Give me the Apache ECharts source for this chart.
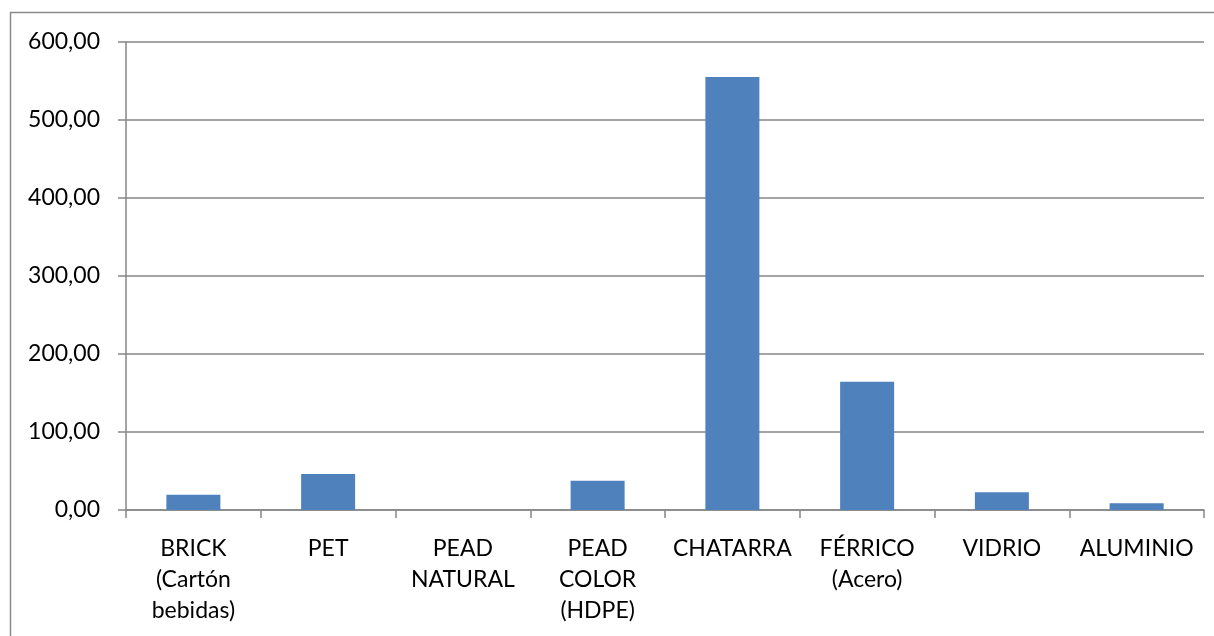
<!DOCTYPE html>
<html>
<head>
<meta charset="utf-8">
<script src="https://cdn.jsdelivr.net/npm/echarts@6/dist/echarts.min.js"></script>
<style>html,body{margin:0;padding:0;background:#fff;}#c{width:1214px;height:636px;}</style>
</head>
<body>
<div id="c"></div>
<script>
const categories = ["BRICK\n(Cartón\nbebidas)", "PET", "PEAD\nNATURAL", "PEAD\nCOLOR\n(HDPE)", "CHATARRA", "FÉRRICO\n(Acero)", "VIDRIO", "ALUMINIO"];
const values = [19.5, 46, 0, 37.5, 555, 164.5, 22.8, 8.8];
const yMin = 0, yMax = 600, yStep = 100;

const chart = echarts.init(document.getElementById('c'), null, {renderer: 'canvas'});
const font = 'Lato, "Open Sans", sans-serif';
chart.setOption({
  animation: false,
  backgroundColor: '#fff',
  graphic: [{
    type: 'rect', shape: {x: 10.5, y: 12.5, width: 1300, height: 800},
    style: {fill: 'none', stroke: '#8a8a8a', lineWidth: 1.5}, silent: true, z: 100
  }],
  grid: {left: 126, right: 10, top: 42, bottom: 126, containLabel: false},
  xAxis: {
    type: 'category', data: categories,
    axisLine: {lineStyle: {color: '#868686', width: 1.5}},
    axisTick: {show: true, length: 8, alignWithLabel: false, lineStyle: {color: '#868686', width: 1.5}},
    axisLabel: {color: '#000', fontSize: 23, fontFamily: font, lineHeight: 31, margin: 23, interval: 0}
  },
  yAxis: {
    type: 'value', min: yMin, max: yMax, interval: yStep,
    axisLine: {show: true, lineStyle: {color: '#868686', width: 1.5}},
    axisTick: {show: true, length: 8, lineStyle: {color: '#868686', width: 1.5}},
    splitLine: {lineStyle: {color: '#868686', width: 1.5}},
    axisLabel: {color: '#000', fontSize: 23, fontFamily: font, margin: 26,
      formatter: v => v.toFixed(2).replace('.', ',')}
  },
  series: [{
    type: 'bar', data: values, barWidth: 54,
    itemStyle: {color: '#4F81BD'}
  }]
});
</script>
</body>
</html>
